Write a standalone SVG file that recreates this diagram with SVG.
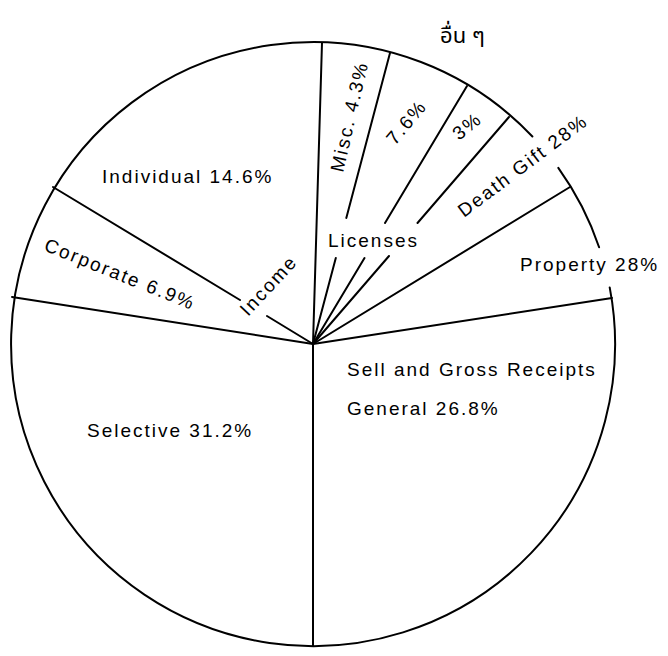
<svg xmlns="http://www.w3.org/2000/svg" width="668" height="656" viewBox="0 0 668 656">
<style>
.ln{stroke:#000;stroke-width:2;fill:none;stroke-linecap:round}
.t{font-family:"Liberation Sans",Arial,sans-serif;font-size:19px;letter-spacing:2px;fill:#000}
.th{font-family:"Noto Sans Thai","Loma","Garuda","Tlwg Typo","Noto Sans",sans-serif;font-size:22px;fill:#000}
</style>
<rect width="668" height="656" fill="#fff"/>
<g id="outline">
<path class="ln" d="M609.7 287.4 A302 302 0 1 1 532.4 136.5"/>
<path class="ln" d="M558.3 167.8 A302 302 0 0 1 599.1 247.2"/>
</g>
<g id="connectors">
<path class="ln" d="M313 344 L313 646"/>
<path class="ln" d="M313 344 L322 43"/>
<path class="ln" d="M390 53 L346.3 218 M335.8 258 L313 344"/>
<path class="ln" d="M467 86 L385 223 M364.5 258 L313 344"/>
<path class="ln" d="M509 117 L417.5 223 M389 256 L313 344"/>
<path class="ln" d="M313 344 L570 187"/>
<path class="ln" d="M313 344 L612 298"/>
<path class="ln" d="M53 187 L240 300 M267 316 L313 344"/>
<path class="ln" d="M313 344 L12 297"/>
</g>
<g id="individual"><text class="t" x="102" y="183">Individual 14.6%</text></g>
<g id="corporate"><text class="t" transform="translate(43 250) rotate(22)">Corporate 6.9%</text></g>
<g id="income"><text class="t" transform="translate(248 317) rotate(-47)">Income</text></g>
<g id="misc"><text class="t" transform="translate(343 173) rotate(-77)">Misc. 4.3%</text></g>
<g id="lic76"><text class="t" transform="translate(395 146) rotate(-50)">7.6%</text></g>
<g id="lic3"><text class="t" transform="translate(459 141) rotate(-39)">3%</text></g>
<g id="licenses"><text class="t" x="328" y="247">Licenses</text></g>
<g id="death"><text class="t" transform="translate(464 218) rotate(-37)">Death Gift 28%</text></g>
<g id="property"><text class="t" x="520" y="271">Property 28%</text></g>
<g id="general"><text class="t" x="347" y="376">Sell and Gross Receipts</text><text class="t" x="347" y="415">General 26.8%</text></g>
<g id="selective"><text class="t" x="87" y="437">Selective 31.2%</text></g>
<g id="other"><text class="th" x="440" y="43">อื่น ๆ</text></g>
</svg>
